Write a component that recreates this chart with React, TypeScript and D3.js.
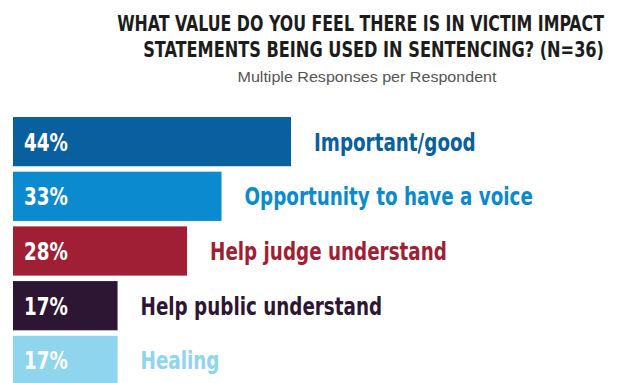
import React, { useLayoutEffect, useRef, useState } from 'react';
import * as d3 from 'd3';

// chart data (share of 36 respondents)
const categories: string[] = [
  'Important/good',
  'Opportunity to have a voice',
  'Help judge understand',
  'Help public understand',
  'Healing',
];
const values: number[] = [44.4, 33.3, 27.8, 16.7, 16.7];
const colors: string[] = ['#0a5f9e', '#0b8ad0', '#a11f35', '#2d1634', '#8fd5ee'];

const titleLines: string[] = [
  'WHAT VALUE DO YOU FEEL THERE IS IN VICTIM IMPACT',
  'STATEMENTS BEING USED IN SENTENCING? (N=36)',
];
const subtitle = 'Multiple Responses per Respondent';

const width = 626;
const height = 383;
const narrow = '"DejaVu Sans Condensed", "Liberation Sans", sans-serif';
const squeeze = 0.815; // DejaVu condensed is still wider than the DIN-like face

// one title line, right aligned at x and squeezed to width w
const FitLine: React.FC<{ x: number; y: number; w: number; children: string }> = ({
  x,
  y,
  w,
  children,
}) => {
  const ref = useRef<SVGTextElement>(null);
  const [sx, setSx] = useState(1);
  useLayoutEffect(() => {
    if (!ref.current) return;
    const natural = ref.current.getComputedTextLength();
    if (natural > 0) setSx(w / natural);
  }, [w, children]);
  return (
    <g transform={`translate(${x},${y}) scale(${sx},1)`}>
      <text
        ref={ref}
        textAnchor="end"
        fontSize={22}
        fontFamily={narrow}
        fontWeight="bold"
        fill="#1c1c1c"
      >
        {children}
      </text>
    </g>
  );
};

const App: React.FC = () => {
  const x = d3.scaleLinear().domain([0, 44.4]).range([13, 291]);
  const y = d3
    .scaleBand<string>()
    .domain(categories)
    .range([117, 385])
    .paddingInner(0.1)
    .paddingOuter(0);

  return (
    <svg
      width={width}
      height={height}
      style={{ position: 'absolute', left: 0, top: 0, display: 'block', background: '#fff' }}
    >
      <FitLine x={604} y={31} w={487}>
        {titleLines[0]}
      </FitLine>
      <FitLine x={604} y={57} w={461}>
        {titleLines[1]}
      </FitLine>
      <text
        x={367}
        y={82}
        textAnchor="middle"
        fontFamily='"Liberation Sans", sans-serif'
        fontSize={15}
        fill="#555"
        textLength={259}
        lengthAdjust="spacingAndGlyphs"
      >
        {subtitle}
      </text>

      {/* bars */}
      {categories.map((c, i) => {
        const y0 = y(c)!;
        const mid = y0 + y.bandwidth() / 2;
        return (
          <g key={c}>
            <rect
              x={x(0)}
              y={y0}
              width={x(values[i]) - x(0)}
              height={y.bandwidth()}
              fill={colors[i]}
            />
            <g
              transform={`translate(24,${mid + 9}) scale(${squeeze},1)`}
              fontFamily={narrow}
              fontWeight="bold"
              fontSize={25}
            >
              <text fill="#fff">{Math.round(values[i])}%</text>
            </g>
            <g
              transform={`translate(${x(values[i]) + 23},${mid + 9}) scale(${squeeze},1)`}
              fontFamily={narrow}
              fontWeight="bold"
              fontSize={25}
            >
              <text fill={colors[i]}>{c}</text>
            </g>
          </g>
        );
      })}
    </svg>
  );
};

export default App;
